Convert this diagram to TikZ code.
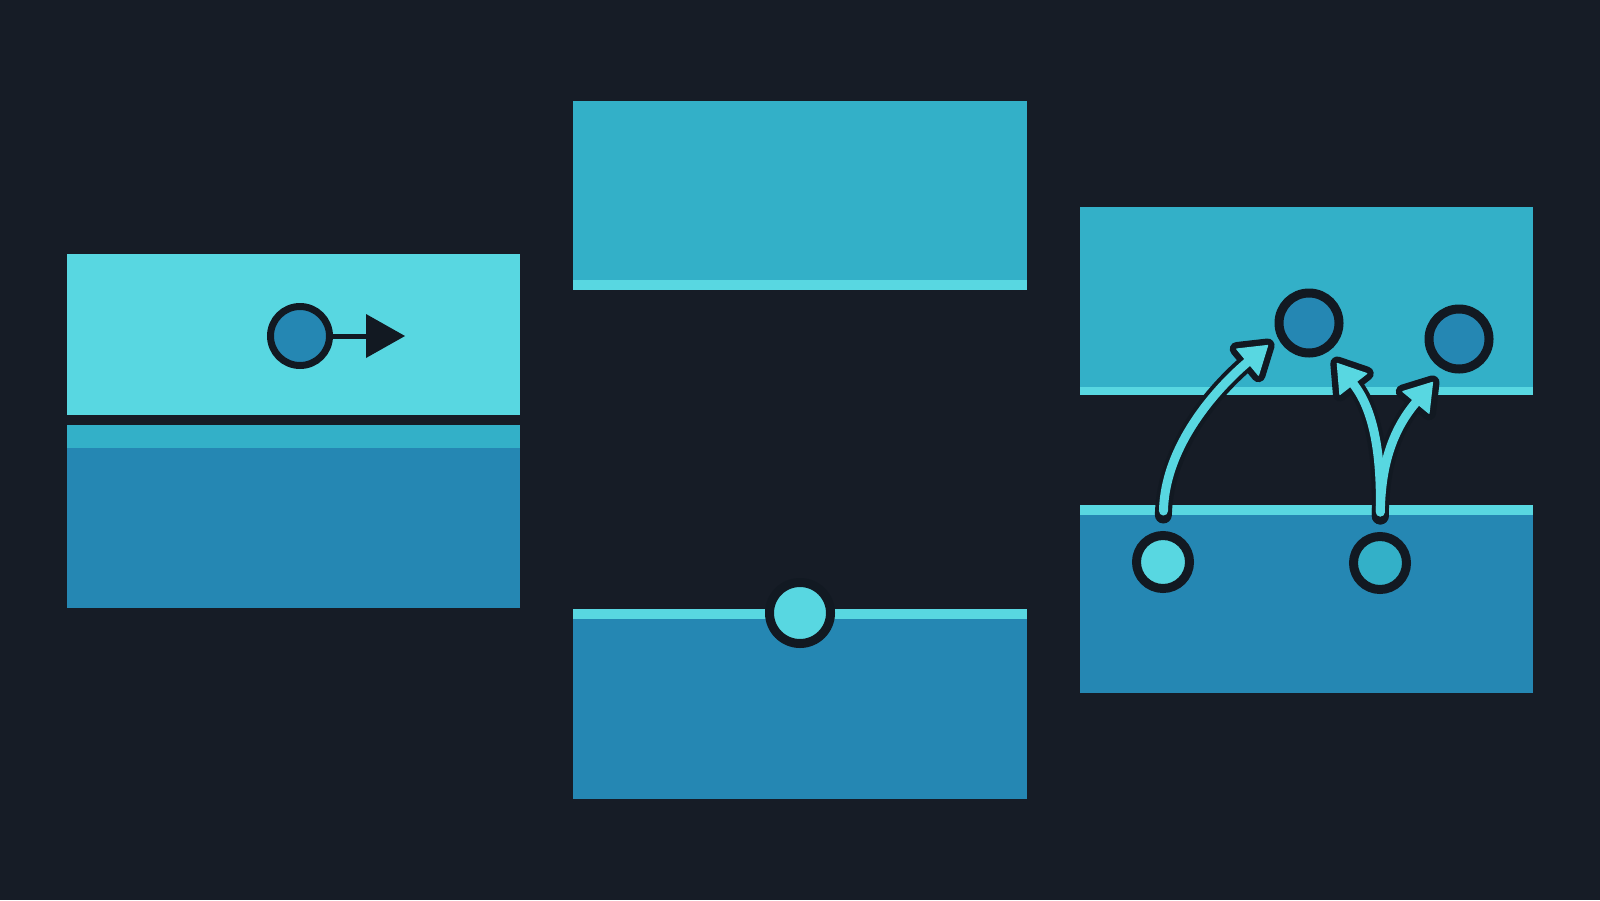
\documentclass[tikz,border=0pt]{standalone}
\usetikzlibrary{arrows.meta,calc}
\definecolor{bg}{HTML}{161C26}
\definecolor{lcyan}{HTML}{58D7E1}
\definecolor{mcyan}{HTML}{33B0C8}
\definecolor{dblue}{HTML}{2587B3}
\definecolor{outl}{HTML}{121922}
\begin{document}
\begin{tikzpicture}[x=0.5pt,y=-0.5pt,
  dotbase/.style={circle, draw=outl, inner sep=0pt},
  dotlg/.style={dotbase, line width=4.5pt, minimum size=30.5pt},
  dotup/.style={dotbase, line width=4.5pt, minimum size=30pt, fill=dblue},
  dotlow/.style={dotbase, line width=4.5pt, minimum size=26.5pt},
  shaftout/.style={draw=outl, line width=8.5pt, line cap=round},
  shaftin/.style={draw=lcyan, line width=4.5pt, line cap=round},
  headout/.style={fill=outl, draw=outl, line width=7pt, line join=round},
  headin/.style={fill=lcyan, draw=lcyan, line width=0.6pt, line join=round}]
\useasboundingbox (0,0) rectangle (1600,900);
\fill[bg] (0,0) rectangle (1600,900);

% Panel 1
\fill[lcyan] (67,254) rectangle (520,415);
\fill[dblue] (67,425) rectangle (520,608);
\fill[mcyan] (67,425) rectangle (520,448);
\node[dotbase, line width=3.5pt, minimum size=29.5pt, fill=dblue] (c0) at (300,336) {};
\coordinate (t0) at (405,336);
\draw[outl, line width=2.5pt, -{Triangle[length=19.5pt,width=22pt,line width=0pt 0]}] (c0.east) -- (t0);

% Panel 2
\fill[mcyan] (573,101) rectangle (1027,290);
\fill[lcyan] (573,280) rectangle (1027,290);
\fill[dblue] (573,609) rectangle (1027,799);
\fill[lcyan] (573,609) rectangle (1027,619);
\node[dotlg, fill=lcyan] (c2) at (800,613) {};

% Panel 3
\fill[mcyan] (1080,207) rectangle (1533,395);
\fill[lcyan] (1080,387) rectangle (1533,395);
\fill[dblue] (1080,505) rectangle (1533,693);
\fill[lcyan] (1080,505) rectangle (1533,515);
\node[dotup] (u1) at (1309,323) {};
\node[dotup] (u2) at (1459,339) {};
\node[dotlow, fill=lcyan] (l1) at (1163,562) {};
\node[dotlow, fill=mcyan] (l2) at (1380,563) {};

% arrow heads: tips and bases
\coordinate (t1) at (1267.6,345.5); \coordinate (b1) at (1247.6,362.1);
\coordinate (t2) at (1337.3,363.5); \coordinate (b2) at (1353.3,384);
\coordinate (t3) at (1432.5,382.4); \coordinate (b3) at (1415.9,402.4);

% outline pass
\draw[shaftout, shorten <=8pt] (l1.north) .. controls (1165,445) and (1217,388) .. (b1);
\draw[shaftout, shorten <=8pt] (l2.north) .. controls (1381,470) and (1378,415) .. (b2);
\draw[shaftout, shorten <=8pt] (l2.north) .. controls (1381,470) and (1390,433) .. (b3);
\foreach \i in {1,2,3}{
  \path[headout] ($(b\i)!8.5pt!90:(t\i)$) -- (t\i) -- ($(b\i)!8.5pt!-90:(t\i)$) -- cycle;
}
% fill pass
\draw[shaftin, shorten <=10pt] (l1.north) .. controls (1165,445) and (1217,388) .. (b1);
\draw[shaftin, shorten <=10pt] (l2.north) .. controls (1381,470) and (1378,415) .. (b2);
\draw[shaftin, shorten <=10pt] (l2.north) .. controls (1381,470) and (1390,433) .. (b3);
\foreach \i in {1,2,3}{
  \path[headin] ($(b\i)!8.5pt!90:(t\i)$) -- (t\i) -- ($(b\i)!8.5pt!-90:(t\i)$) -- cycle;
}
\end{tikzpicture}
\end{document}
